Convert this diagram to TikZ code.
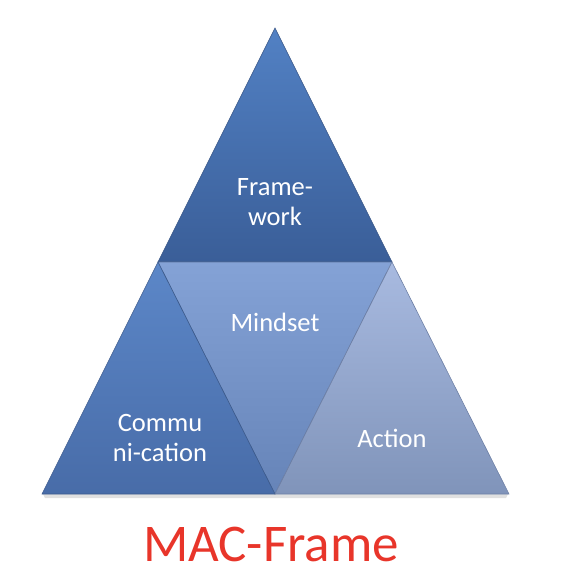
\documentclass[tikz,border=0pt]{standalone}
\usepackage{fontspec}
\setmainfont{Carlito}
\usetikzlibrary{shadings}
\definecolor{redtxt}{HTML}{E8352A}
\definecolor{topA}{RGB}{82,129,196}
\definecolor{topB}{RGB}{58,94,152}
\definecolor{topE}{RGB}{50,80,130}
\definecolor{midA}{RGB}{132,162,214}
\definecolor{midB}{RGB}{102,132,184}
\definecolor{midE}{RGB}{90,115,160}
\definecolor{lefA}{RGB}{92,135,200}
\definecolor{lefB}{RGB}{72,108,168}
\definecolor{lefE}{RGB}{60,90,140}
\definecolor{rigA}{RGB}{168,186,224}
\definecolor{rigB}{RGB}{128,148,186}
\definecolor{rigE}{RGB}{110,128,165}
\tikzset{
  tri/.style={draw=#1, line width=0.6pt, line join=miter},
  lbl/.style={text=white, font=\fontsize{26.5}{29.5}\selectfont, align=center, inner sep=0pt}
}
\begin{document}
\begin{tikzpicture}[x=1pt,y=-1pt]
\useasboundingbox (0,0) rectangle (566,582);
\coordinate (apex) at (275,28);
\coordinate (ml) at (158,262);
\coordinate (mr) at (392,262);
\coordinate (bl) at (42,494);
\coordinate (bm) at (275,494);
\coordinate (br) at (509,494);
\fill[black!20, opacity=0.6] (43,494) -- (508,494) -- (506,498) -- (45,498) -- cycle;
\shade[top color=topA, bottom color=topB, tri=topE] (apex) -- (mr) -- (ml) -- cycle;
\shade[top color=midA, bottom color=midB, tri=midE] (ml) -- (mr) -- (bm) -- cycle;
\shade[top color=lefA, bottom color=lefB, tri=lefE] (ml) -- (bm) -- (bl) -- cycle;
\shade[top color=rigA, bottom color=rigB, tri=rigE] (mr) -- (br) -- (bm) -- cycle;
\node[lbl] (fw) at (275,202) {Frame-\\work};
\node[lbl] (ms) at (275,322) {Mindset};
\node[lbl] (cm) at (160,438) {Commu\\ni-cation};
\node[lbl] (ac) at (392,438) {Action};
\node[text=redtxt, font=\fontsize{53}{58}\selectfont, inner sep=0pt] (title) at (271,544) {MAC-Frame};
\end{tikzpicture}
\end{document}
